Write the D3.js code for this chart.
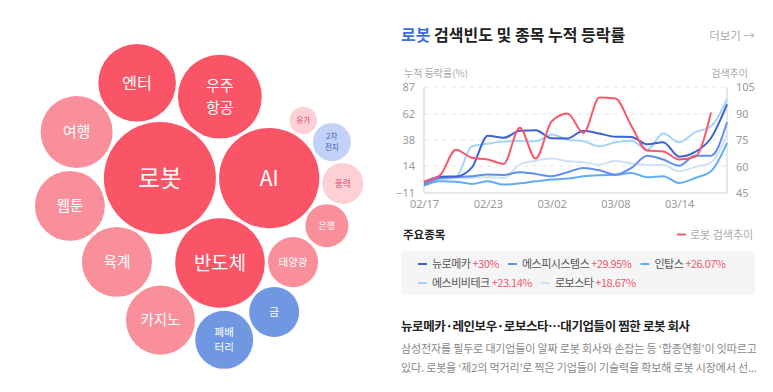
<!DOCTYPE html>
<html>
<head>
<meta charset="utf-8">
<script src="https://cdn.jsdelivr.net/npm/d3@7"></script>
<style>
  body { margin: 0; background: #fff; font-family: "Noto Sans CJK KR", "Noto Sans", sans-serif; }
</style>
</head>
<body>
<div class="canvas"></div>
<script>
// bubble keywords (sorted by search index, biggest first)
const keywords = ['로봇', 'AI', '반도체', '우주항공', '엔터', '여행', '웹툰', '육계', '카지노', '폐배터리', '금', '태양광', '은행', '풍력', '2차전지', '유가'];
const searchIndex = [100, 80, 64, 56, 48, 41.3, 39, 39, 38, 26.8, 20, 20, 14.7, 13.4, 11.5, 6];
const keywordTone = ['hot', 'hot', 'hot', 'hot', 'hot', 'warm', 'warm', 'warm', 'warm', 'cold', 'cold', 'warm', 'warm', 'mild', 'cool', 'mild'];

// line chart data (trading days)
const dates = ['02/17', '02/20', '02/21', '02/22', '02/23', '02/24', '02/27', '02/28', '03/02', '03/03',
               '03/06', '03/07', '03/08', '03/09', '03/10', '03/13', '03/14', '03/15', '03/16', '03/17'];
const xTicks = ['02/17', '02/23', '03/02', '03/08', '03/14'];
const leftTicks = [87, 62, 38, 14, -11];
const rightTicks = [105, 90, 75, 60, 45];

const searchTrend = [51.5, 55, 69.5, 65, 64, 61.5, 82, 64.5, 85.5, 90, 79, 99, 98.5, 83, 69, 68.5, 64, 65.5, 90.5];
const neuromeka = [-1, 4, 4.3, 12.5, 42, 40, 46.5, 47, 39.6, 39.5, 46.6, 44, 41, 40.8, 34, 35.9, 22.6, 27, 39.9, 71];
const spSystems = [-3.2, 2.9, 3.8, 4.5, 6, 5.7, 8.2, 6.6, 4.5, 8.2, 12.2, 10, 6, 12.2, 23.5, 19.9, 14.3, 23.5, 23.5, 54.4];
const intops = [-4.2, -0.2, -0.5, -2.6, -0.2, -3.2, -2, -0.2, 1.4, 2.3, 4.5, 5.4, 5.7, 7.5, 3.5, 4.5, -1.7, 2.9, 9.1, 35.3];
const sbbTech = [-2.3, 2, 3.5, 32.2, 34.6, 36.5, 37.1, 36.8, 43, 38.3, 36.8, 32.2, 35.9, 37.4, 29.1, 43.9, 35.9, 45.1, 50.7, 75.9];
const robostar = [-1.1, 2, 2.6, 2.9, 3.8, 2.9, 15.2, 18.9, 20.8, 18.3, 17.4, 15.2, 18.9, 16.2, 14.9, 14.9, 9.1, 13.1, 17.4, 43];

const stockNames = ['뉴로메카', '에스피시스템스', '인탑스', '에스비비테크', '로보스타'];
const stockChanges = ['+30%', '+29.95%', '+26.07%', '+23.14%', '+18.67%'];
const stockColors = ['#3b62d6', '#5f8ff0', '#62acf5', '#a6d3fa', '#cfe1f6'];
const stockSeries = [neuromeka, spSystems, intops, sbbTech, robostar];

const headline = '뉴로메카·레인보우·로보스타…대기업들이 찜한 로봇 회사';
const bodyLines = [
  '삼성전자를 필두로 대기업들이 알짜 로봇 회사와 손잡는 등 ‘합종연횡’이 잇따르고',
  '있다. 로봇을 ‘제2의 먹거리’로 찍은 기업들이 기술력을 확보해 로봇 시장에서 선...'
];

const toneFill = { hot: '#fa5567', warm: '#f98f9b', mild: '#fdd0d5', cold: '#7097e2', cool: '#c2d1f7' };
const toneText = { hot: '#fff', warm: '#fff', mild: '#d8436a', cool: '#4262b8', cold: '#fff' };

// main svg
const svg = d3.select('.canvas').append('svg')
    .attr('width', 773)
    .attr('height', 392)
    .style('display', 'block');

// ---------- bubbles ----------
// front-chain circle packing, next pair picked next to the weighted centroid
function place(a, b, c) {
  const dx = b.x - a.x, dy = b.y - a.y, dc = dx * dx + dy * dy;
  let da = b.r + c.r, db = a.r + c.r;
  da *= da; db *= db;
  const x = 0.5 + (db - da) / (2 * dc);
  const y = Math.sqrt(Math.max(0, 2 * da * (db + dc) - (db - dc) * (db - dc) - da * da)) / (2 * dc);
  c.x = a.x + x * dx + y * dy;
  c.y = a.y + x * dy - y * dx;
}
function intersects(a, b) {
  const dx = b.x - a.x, dy = b.y - a.y, dr = a.r + b.r;
  return dr * dr - 1e-6 > dx * dx + dy * dy;
}
function dist2(p, x, y) { return (p.x - x) ** 2 + (p.y - y) ** 2; }

function packChain(circles) {
  const n = circles.length;
  const c0 = circles[0], c1 = circles[1], c2 = circles[2];
  c0.x = -c1.r; c0.y = 0; c1.x = c0.r; c1.y = 0;
  place(c1, c0, c2);
  let oa = 0, ox = 0, oy = 0;
  [c0, c1, c2].forEach(p => { const w = p.r * p.r; oa += w; ox += w * p.x; oy += w * p.y; });
  let a = {_: c0}, b = {_: c1}, c = {_: c2};
  a.next = c.previous = b;
  b.next = a.previous = c;
  c.next = b.previous = a;
  pack: for (let i = 3; i < n; ++i) {
    place(a._, b._, circles[i]);
    c = {_: circles[i]};
    let j = b.next, k = a.previous, sj = b._.r, sk = a._.r;
    do {
      if (sj <= sk) {
        if (intersects(j._, c._)) { b = j; a.next = b; b.previous = a; --i; continue pack; }
        sj += j._.r; j = j.next;
      } else {
        if (intersects(k._, c._)) { a = k; a.next = b; b.previous = a; --i; continue pack; }
        sk += k._.r; k = k.previous;
      }
    } while (j !== k.next);
    c.previous = a; c.next = b; a.next = b.previous = b = c;
    const w = c._.r * c._.r;
    oa += w; ox += w * c._.x; oy += w * c._.y;
    const cx = ox / oa, cy = oy / oa;
    let best = dist2(a._, cx, cy);
    while ((c = c.next) !== b) {
      const d = dist2(c._, cx, cy);
      if (d < best) { a = c; best = d; }
    }
    b = a.next;
  }
  return circles;
}

const gap = 1.6;
const rScale = d3.scaleSqrt().domain([0, 100]).range([0, 56]);
const nodes = keywords.map((k, i) => ({ name: k, tone: keywordTone[i], size: rScale(searchIndex[i]), r: rScale(searchIndex[i]) + gap }));
packChain(nodes);
const enc = d3.packEnclose(nodes);

const bubble = svg.append('g')
    .attr('transform', `translate(${193 - enc.x},${201 - enc.y})`)
    .selectAll('g')
    .data(nodes)
    .join('g')
    .attr('transform', d => `translate(${d.x},${d.y})`);

bubble.append('circle')
    .attr('r', d => d.size)
    .attr('fill', d => toneFill[d.tone]);

bubble.each(function(d) {
  const lines = d.name.length >= 4 ? [d.name.slice(0, 2), d.name.slice(2)] : [d.name];
  const fs = Math.max(7.5, d.size * (lines.length > 1 ? 0.36 : 0.42));
  const g = d3.select(this);
  lines.forEach((l, i) => {
    g.append('text')
        .attr('text-anchor', 'middle')
        .attr('fill', toneText[d.tone])
        .style('font-size', fs + 'px')
        .attr('y', (i - (lines.length - 1) / 2) * fs * 1.45)
        .attr('dy', '0.36em')
        .text(l);
  });
});

// ---------- right panel title ----------
const title = svg.append('text')
    .attr('x', 401).attr('y', 41)
    .style('font-size', '16px').style('font-weight', 'bold');
title.append('tspan').attr('fill', '#3d6ee0').text('로봇');
title.append('tspan').attr('fill', '#222').text(' 검색빈도 및 종목 누적 등락률');

svg.append('text')
    .attr('x', 755).attr('y', 40)
    .attr('text-anchor', 'end')
    .attr('fill', '#aaa')
    .style('font-size', '11.5px')
    .text('더보기 →');

// ---------- line chart ----------
const plot = {left: 424, right: 727, top: 87, bottom: 193};

const x = d3.scalePoint().domain(dates).range([plot.left, plot.right]);
const yLeft = d3.scaleLinear().domain([-11, 87]).range([plot.bottom, plot.top]);
const yRight = d3.scaleLinear().domain([45, 105]).range([plot.bottom, plot.top]);

svg.append('text').attr('x', 404).attr('y', 77)
    .attr('fill', '#aaa').style('font-size', '10px').text('누적 등락률(%)');
svg.append('text').attr('x', 748).attr('y', 77).attr('text-anchor', 'end')
    .attr('fill', '#aaa').style('font-size', '10px').text('검색추이');

// grid
svg.append('g').selectAll('line')
    .data(leftTicks.slice(0, -1))
    .join('line')
    .attr('x1', plot.left).attr('x2', plot.right)
    .attr('y1', d => yLeft(d)).attr('y2', d => yLeft(d))
    .attr('stroke', '#e8e8e8')
    .attr('stroke-dasharray', '5,4');

const axisStyle = g => {
  g.select('.domain').remove();
  g.selectAll('text').attr('fill', '#999').style('font-size', '11px')
      .style('font-family', '"Noto Sans", "DejaVu Sans", sans-serif');
};

svg.append('g')
    .attr('transform', `translate(${plot.left},0)`)
    .call(d3.axisLeft(yLeft).tickValues(leftTicks).tickSize(0).tickPadding(9))
    .call(axisStyle);

svg.append('g')
    .attr('transform', `translate(${plot.right},0)`)
    .call(d3.axisRight(yRight).tickValues(rightTicks).tickSize(0).tickPadding(9))
    .call(axisStyle);

svg.append('g')
    .attr('transform', `translate(0,${plot.bottom})`)
    .call(d3.axisBottom(x).tickValues(xTicks).tickSize(0).tickPadding(7))
    .call(axisStyle);

// frame lines
const frame = svg.append('g').attr('stroke', '#cfcfcf').attr('stroke-width', 1);
frame.append('line').attr('x1', plot.left).attr('x2', plot.left).attr('y1', plot.top).attr('y2', plot.bottom);
frame.append('line').attr('x1', plot.right).attr('x2', plot.right).attr('y1', plot.top).attr('y2', plot.bottom);
frame.append('line').attr('x1', plot.left).attr('x2', plot.right).attr('y1', plot.bottom).attr('y2', plot.bottom);

const stockLine = d3.line()
    .x((d, i) => x(dates[i]))
    .y(d => yLeft(d))
    .curve(d3.curveMonotoneX);

const searchLine = d3.line()
    .x((d, i) => x(dates[i]))
    .y(d => yRight(d))
    .curve(d3.curveMonotoneX);

svg.append('g').selectAll('path')
    .data(stockSeries.map((s, i) => ({ s, c: stockColors[i] })).reverse())
    .join('path')
    .attr('d', d => stockLine(d.s))
    .attr('fill', 'none')
    .attr('stroke', d => d.c)
    .attr('stroke-width', 2);

svg.append('path')
    .attr('d', searchLine(searchTrend))
    .attr('fill', 'none')
    .attr('stroke', '#f7596b')
    .attr('stroke-width', 2);

// ---------- legend ----------
svg.append('text').attr('x', 403).attr('y', 239)
    .attr('fill', '#222').style('font-size', '11.5px').style('font-weight', 'bold')
    .text('주요종목');

svg.append('line').attr('x1', 677).attr('x2', 686).attr('y1', 234.5).attr('y2', 234.5)
    .attr('stroke', '#f7596b').attr('stroke-width', 2);
svg.append('text').attr('x', 690).attr('y', 238.5)
    .attr('fill', '#aaa').style('font-size', '11px').text('로봇 검색추이');

svg.append('rect')
    .attr('x', 401).attr('y', 251).attr('width', 354).attr('height', 44)
    .attr('rx', 4).attr('fill', '#f5f5f5');

const rows = [[0, 1, 2], [3, 4]];
rows.forEach((row, ri) => {
  let cx = 418;
  const cy = 264 + ri * 19;
  row.forEach(i => {
    svg.append('line').attr('x1', cx).attr('x2', cx + 9).attr('y1', cy).attr('y2', cy)
        .attr('stroke', stockColors[i]).attr('stroke-width', 2);
    const t = svg.append('text').attr('x', cx + 14).attr('y', cy + 4)
        .style('font-size', '11px').style('letter-spacing', '-0.5px');
    t.append('tspan').attr('fill', '#555').text(stockNames[i] + ' ');
    t.append('tspan').attr('fill', '#f0596b').text(stockChanges[i]);
    cx += 14 + t.node().getComputedTextLength() + 9;
  });
});

// ---------- news ----------
svg.append('text').attr('x', 401).attr('y', 331)
    .attr('fill', '#222').style('font-size', '12.5px').style('font-weight', 'bold')
    .style('letter-spacing', '-0.4px')
    .text(headline);

svg.append('g').selectAll('text')
    .data(bodyLines)
    .join('text')
    .attr('x', 401)
    .attr('y', (d, i) => 353 + i * 19)
    .attr('fill', '#888')
    .style('font-size', '11px')
    .style('letter-spacing', '-0.15px')
    .text(d => d);
</script>
</body>
</html>
